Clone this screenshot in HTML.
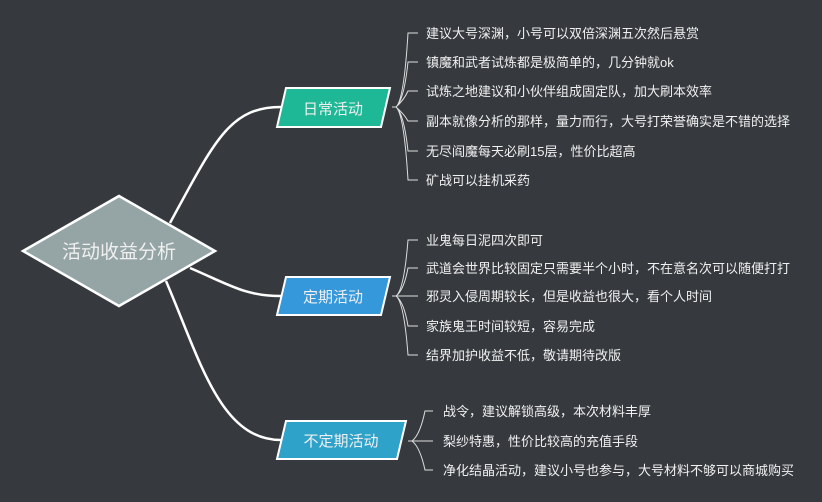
<!DOCTYPE html>
<html><head><meta charset="utf-8"><style>
html,body{margin:0;padding:0;background:#363a3f;}
svg{display:block}
text{font-family:"Liberation Sans","Noto Sans CJK SC",sans-serif;fill:#f0f0f0;}
</style></head><body>
<svg width="822" height="502" viewBox="0 0 822 502">
<rect width="822" height="502" fill="#363a3f"/>
<g fill="none" stroke="#fff" stroke-width="2.5">
<path d="M170 223 C 215 140, 230 107, 281 107"/>
<path d="M190 268 C 230 285, 245 296, 281 296"/>
<path d="M166 281 C 200 360, 220 440, 281 440"/>
</g>
<polygon points="119,196 215,251 119,306 23,251" fill="#95a5a6" stroke="#fff" stroke-width="2.5"/>
<text x="119" y="258" font-size="19" text-anchor="middle">活动收益分析</text>
<polygon points="286,88 390,88 381,127 277,127" fill="#1fb897" stroke="#fff" stroke-width="2"/>
<text x="333" y="114" font-size="15" text-anchor="middle">日常活动</text>
<polygon points="286,277 390,277 381,315 277,315" fill="#3498db" stroke="#fff" stroke-width="2"/>
<text x="333" y="302" font-size="15" text-anchor="middle">定期活动</text>
<polygon points="286,421 406,421 397,459 277,459" fill="#2ea2c9" stroke="#fff" stroke-width="2"/>
<text x="341" y="446" font-size="15" text-anchor="middle">不定期活动</text>
<g fill="none" stroke="#ddd" stroke-width="1">
<path d="M392 107 H396"/>
<path d="M396 107 Q404 100 408 33 H418 M396 107 Q404 100 408 62 H418 M396 107 Q404 100 408 91 H418 M396 107 Q404 114 408 121 H418 M396 107 Q404 114 408 151 H418 M396 107 Q404 114 408 180 H418"/>
<path d="M392 296 H396"/>
<path d="M396 296 Q404 290 408 240 H418 M396 296 Q404 290 408 268 H418 M396 296 L418 296 M396 296 Q404 302 408 326 H418 M396 296 Q404 302 408 355 H418"/>
<path d="M408 441 H412"/>
<path d="M412 441 Q420 435 425 411 H433 M412 441 H433 M412 441 Q420 447 425 470 H433"/>
</g>
<g font-size="13">
<text x="426" y="38">建议大号深渊，小号可以双倍深渊五次然后悬赏</text>
<text x="426" y="67">镇魔和武者试炼都是极简单的，几分钟就ok</text>
<text x="426" y="96">试炼之地建议和小伙伴组成固定队，加大刷本效率</text>
<text x="426" y="126">副本就像分析的那样，量力而行，大号打荣誉确实是不错的选择</text>
<text x="426" y="156">无尽阎魔每天必刷15层，性价比超高</text>
<text x="426" y="185">矿战可以挂机采药</text>
<text x="426" y="245">业鬼每日泥四次即可</text>
<text x="426" y="273">武道会世界比较固定只需要半个小时，不在意名次可以随便打打</text>
<text x="426" y="301">邪灵入侵周期较长，但是收益也很大，看个人时间</text>
<text x="426" y="331">家族鬼王时间较短，容易完成</text>
<text x="426" y="360">结界加护收益不低，敬请期待改版</text>
<text x="443" y="416">战令，建议解锁高级，本次材料丰厚</text>
<text x="443" y="446">梨纱特惠，性价比较高的充值手段</text>
<text x="443" y="475">净化结晶活动，建议小号也参与，大号材料不够可以商城购买</text>
</g>
</svg>
</body></html>
